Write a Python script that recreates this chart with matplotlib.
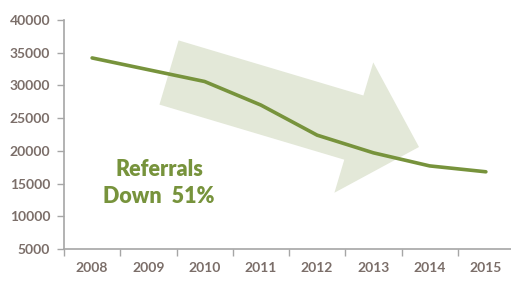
import matplotlib
matplotlib.use("Agg")
from matplotlib import pyplot as plt
from matplotlib import patches as mpatches
from matplotlib.transforms import IdentityTransform

# referrals per year
years = ['2008', '2009', '2010', '2011', '2012', '2013', '2014', '2015']
referrals = [34200, 32400, 30600, 27000, 22400, 19700, 17700, 16800]
y_ticks = [5000, 10000, 15000, 20000, 25000, 30000, 35000, 40000]

line_color = '#77933c'
label_color = '#7b6e69'
axis_color = '#a6a6a6'

plt.rcParams['font.family'] = ['Lato', 'DejaVu Sans']

fig = plt.figure(figsize=(5.11, 2.81), dpi=100)
ax = fig.add_axes([64 / 511, 32 / 281, 450 / 511, 229 / 281])

# big background arrow (decoration, in pixel coords)
arrow = mpatches.FancyArrow(169, 208.5, 250, -74.5, width=67, head_width=136,
                            head_length=68, length_includes_head=True,
                            transform=IdentityTransform(), color='#e3e8d8',
                            lw=0, zorder=1, clip_on=False)
ax.add_patch(arrow)

x = range(len(years))
ax.plot(x, referrals, color=line_color, lw=2.6, solid_joinstyle='round',
        solid_capstyle='round', zorder=3)

ax.set_xlim(-0.5, len(years) - 0.5)
ax.set_ylim(5000, 40000)
ax.set_yticks(y_ticks)
ax.set_xticks(list(x))
ax.set_xticklabels(years)
ax.set_xticks([i - 0.5 for i in range(len(years) + 1)], minor=True)
ax.tick_params(axis='x', which='major', length=0, pad=9)
ax.tick_params(axis='x', which='minor', length=5, color=axis_color, width=1)
ax.tick_params(axis='y', length=5, color=axis_color, width=1, pad=5)
for lab in ax.get_xticklabels() + ax.get_yticklabels():
    lab.set_fontsize(10)
    lab.set_fontweight('bold')
    lab.set_color(label_color)

for side in ['top', 'right']:
    ax.spines[side].set_visible(False)
for side in ['left', 'bottom']:
    ax.spines[side].set_color(axis_color)
    ax.spines[side].set_linewidth(1.2)

fig.text(159 / 511, 1 - 183 / 281, 'Referrals\nDown  51%', ha='center',
         va='center', fontsize=15.5, fontweight='heavy', color=line_color,
         linespacing=1.3)

plt.savefig('out.png', dpi=100)
